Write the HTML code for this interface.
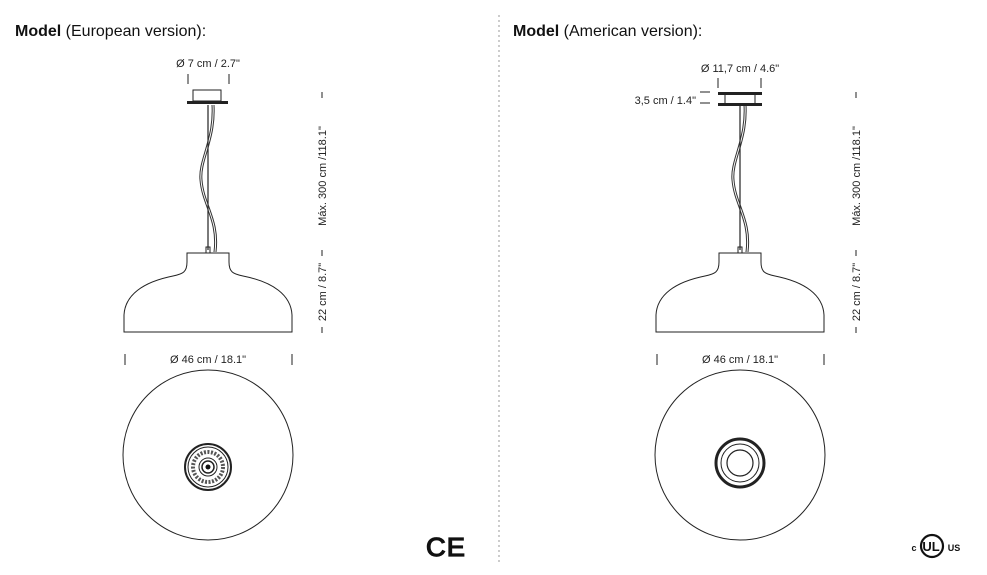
<!DOCTYPE html>
<html><head><meta charset="utf-8"><style>
html,body{margin:0;padding:0;background:#fff;}
svg{display:block;font-family:"Liberation Sans",sans-serif;}
</style></head><body>
<svg width="987" height="575" viewBox="0 0 987 575" xmlns="http://www.w3.org/2000/svg">
<defs>
<g id="shade">
<path d="M-21,253 L21,253 L21,262 C21,272 25,274 35,276 C65,282 83,295 84,315 L84,332 L-84,332 L-84,315 C-83,295 -65,282 -35,276 C-25,274 -21,272 -21,262 Z" fill="none" stroke="#222" stroke-width="1"/>
<line x1="0" y1="105" x2="0" y2="250" stroke="#222" stroke-width="1.2"/>
<path d="M4,105 C6,140 -10,160 -8,180 C-6,205 10,220 6,252" fill="none" stroke="#333" stroke-width="1"/>
<path d="M6,105 C8,140 -8,160 -6,180 C-4,205 12,220 8,252" fill="none" stroke="#333" stroke-width="1"/>
<rect x="-2" y="247" width="4" height="6" fill="none" stroke="#222" stroke-width="1"/>
<circle cx="0" cy="455" r="85" fill="none" stroke="#222" stroke-width="1"/>
</g>
</defs>
<text x="15" y="36" font-size="16" fill="#111"><tspan font-weight="bold">Model</tspan> (European version):</text>
<text x="513" y="36" font-size="16" fill="#111"><tspan font-weight="bold">Model</tspan> (American version):</text>
<line x1="499" y1="15" x2="499" y2="565" stroke="#999" stroke-dasharray="2,3" stroke-width="1"/>

<g transform="translate(208,0)">
<use href="#shade"/>
<rect x="-15" y="90" width="28" height="11" fill="none" stroke="#222"/>
<rect x="-21" y="101" width="41" height="3" fill="#222"/>
<text x="0" y="67" font-size="11" text-anchor="middle" fill="#222">Ø 7 cm / 2.7"</text>
<line x1="-20" y1="74" x2="-20" y2="84" stroke="#222"/>
<line x1="21" y1="74" x2="21" y2="84" stroke="#222"/>
<text x="0" y="363" font-size="11" text-anchor="middle" fill="#222">Ø 46 cm / 18.1"</text>
<line x1="-83" y1="354" x2="-83" y2="365" stroke="#222"/>
<line x1="84" y1="354" x2="84" y2="365" stroke="#222"/>
<circle cx="0" cy="467" r="23" fill="none" stroke="#222" stroke-width="2"/>
<circle cx="0" cy="467" r="20" fill="none" stroke="#222" stroke-width="1"/>
<circle cx="0" cy="467" r="15" fill="none" stroke="#555" stroke-width="4" stroke-dasharray="2,1.5"/>
<circle cx="0" cy="467" r="9" fill="none" stroke="#222" stroke-width="1"/>
<circle cx="0" cy="467" r="6" fill="none" stroke="#222" stroke-width="1.5"/>
<circle cx="0" cy="467" r="2.5" fill="#111"/>
</g>

<g transform="translate(740,0)">
<use href="#shade"/>
<rect x="-22" y="92" width="44" height="3" fill="#222"/>
<rect x="-22" y="103" width="44" height="3" fill="#222"/>
<line x1="-15" y1="95" x2="-15" y2="103" stroke="#222"/>
<line x1="15" y1="95" x2="15" y2="103" stroke="#222"/>
<text x="0" y="72" font-size="11" text-anchor="middle" fill="#222">Ø 11,7 cm / 4.6"</text>
<line x1="-22" y1="78" x2="-22" y2="88" stroke="#222"/>
<line x1="21" y1="78" x2="21" y2="88" stroke="#222"/>
<text x="-44" y="104" font-size="11" text-anchor="end" fill="#222">3,5 cm / 1.4"</text>
<line x1="-40" y1="92" x2="-30" y2="92" stroke="#222"/>
<line x1="-40" y1="103" x2="-30" y2="103" stroke="#222"/>
<text x="0" y="363" font-size="11" text-anchor="middle" fill="#222">Ø 46 cm / 18.1"</text>
<line x1="-83" y1="354" x2="-83" y2="365" stroke="#222"/>
<line x1="84" y1="354" x2="84" y2="365" stroke="#222"/>
<circle cx="0" cy="463" r="24" fill="none" stroke="#222" stroke-width="3"/>
<circle cx="0" cy="463" r="19" fill="none" stroke="#222" stroke-width="1"/>
<circle cx="0" cy="463" r="13" fill="none" stroke="#222" stroke-width="1.2"/>
</g>

<g font-size="11" fill="#222">
<g transform="translate(322,0)">
<line x1="0" y1="92" x2="0" y2="98" stroke="#222"/>
<text transform="translate(4,176) rotate(-90)" text-anchor="middle">Máx. 300 cm /118.1"</text>
<line x1="0" y1="250" x2="0" y2="256" stroke="#222"/>
<text transform="translate(4,292) rotate(-90)" text-anchor="middle">22 cm / 8.7"</text>
<line x1="0" y1="327" x2="0" y2="333" stroke="#222"/>
</g>
<g transform="translate(856,0)">
<line x1="0" y1="92" x2="0" y2="98" stroke="#222"/>
<text transform="translate(4,176) rotate(-90)" text-anchor="middle">Máx. 300 cm /118.1"</text>
<line x1="0" y1="250" x2="0" y2="256" stroke="#222"/>
<text transform="translate(4,292) rotate(-90)" text-anchor="middle">22 cm / 8.7"</text>
<line x1="0" y1="327" x2="0" y2="333" stroke="#222"/>
</g>
</g>

<text transform="translate(426,556) scale(1.05,1)" font-size="26" fill="#111" stroke="#111" stroke-width="1.2" letter-spacing="1">CE</text>

<g transform="translate(932,546)">
<circle cx="0" cy="0" r="11" fill="none" stroke="#111" stroke-width="2.2"/>
<text x="-1" y="5" font-size="13" font-weight="bold" text-anchor="middle" fill="#111">UL</text>
<text x="-18" y="5" font-size="9" font-weight="bold" text-anchor="middle" fill="#111">c</text>
<text x="22" y="5" font-size="9" font-weight="bold" text-anchor="middle" fill="#111">US</text>
</g>
</svg>
</body></html>
